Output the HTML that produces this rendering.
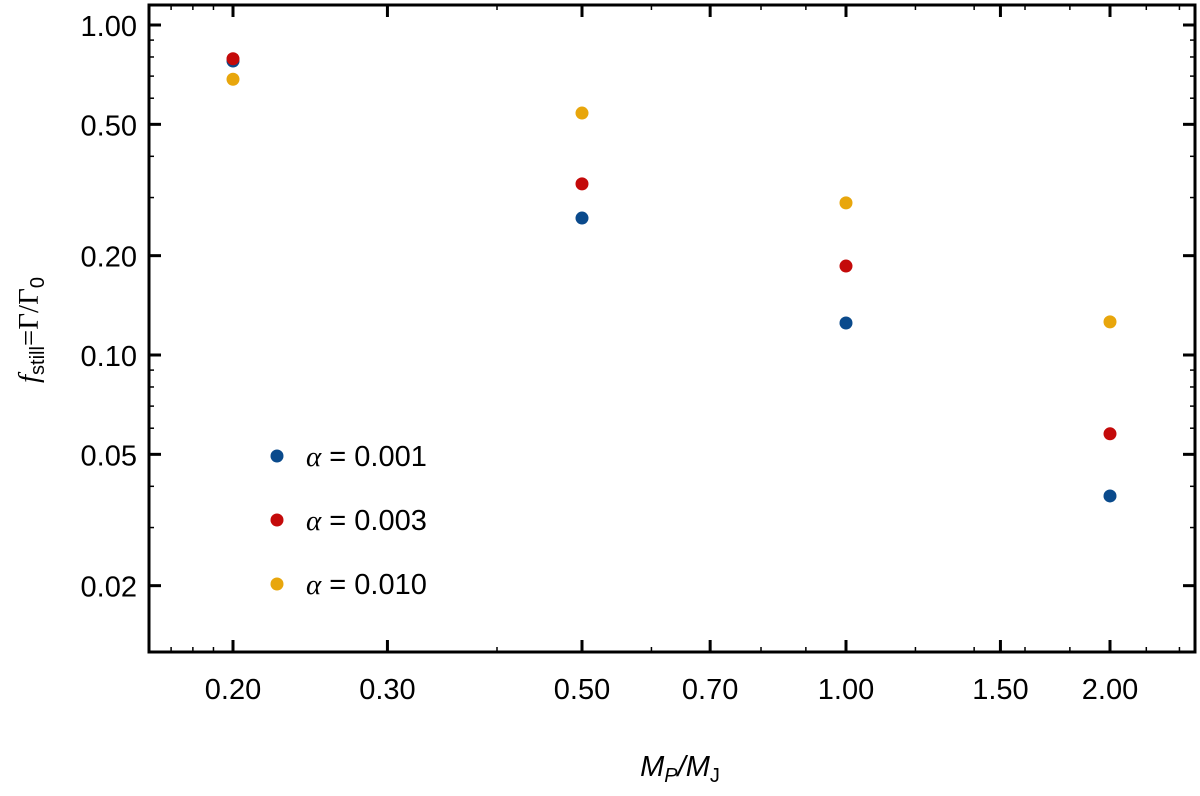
<!DOCTYPE html>
<html><head><meta charset="utf-8"><style>
body{margin:0;background:#fff;}
svg text{font-family:"Liberation Sans",Arial,sans-serif;}
</style></head><body>
<svg id="chart" width="1200" height="791" viewBox="0 0 1200 791" xmlns="http://www.w3.org/2000/svg">
<g id="ticks"></g>
<g id="points"></g>
<rect x="149" y="5" width="1046" height="647" fill="none" stroke="#000" stroke-width="3"/>
<text x="680" y="776" font-size="29" text-anchor="middle"><tspan font-style="italic">M</tspan><tspan font-size="20" dy="6" font-style="italic">P</tspan><tspan dy="-6" font-style="italic">/M</tspan><tspan font-size="20" dy="6">J</tspan></text>
<text transform="translate(38,330) rotate(-90)" font-size="29" text-anchor="middle"><tspan font-style="italic" font-family="Liberation Serif">f</tspan><tspan font-size="20" dy="6">still</tspan><tspan dy="-6" font-family="Liberation Serif">=Γ/Γ</tspan><tspan font-size="20" dy="6">0</tspan></text>
<g font-size="29">
<g><circle cx="277" cy="456" r="6.5" fill="#0a4a8c"/><text x="306" y="466"><tspan font-style="italic" font-family="Liberation Serif">α</tspan> =  0.001</text></g>
<g><circle cx="277" cy="520" r="6.5" fill="#c40a0a"/><text x="306" y="530"><tspan font-style="italic" font-family="Liberation Serif">α</tspan> =  0.003</text></g>
<g><circle cx="277" cy="584" r="6.5" fill="#e8a60c"/><text x="306" y="594"><tspan font-style="italic" font-family="Liberation Serif">α</tspan> =  0.010</text></g>
</g>
</svg>
<script>
const masses=[0.2,0.5,1.0,2.0];
const alpha001=[0.778,0.26,0.125,0.0374];
const alpha003=[0.79,0.33,0.186,0.0577];
const alpha010=[0.685,0.541,0.289,0.126];
const xTickLabels=["0.20","0.30","0.50","0.70","1.00","1.50","2.00"];
const yTickLabels=["0.02","0.05","0.10","0.20","0.50","1.00"];
const xMinor=[0.16,0.17,0.18,0.19,0.4,0.6,0.8,0.9,1.2,1.4,1.6,1.8,2.2,2.4];
const NS="http://www.w3.org/2000/svg";
function X(v){return 233+(Math.log10(v)-Math.log10(0.2))*877;}
function Y(v){return 355-(Math.log10(v)+1)*330;}
const L=149,R=1195,T=5,B=652;
const tg=document.getElementById('ticks');
function line(x1,y1,x2,y2,w){const l=document.createElementNS(NS,'line');l.setAttribute('x1',x1);l.setAttribute('y1',y1);l.setAttribute('x2',x2);l.setAttribute('y2',y2);l.setAttribute('stroke','#000');l.setAttribute('stroke-width',w);


tg.appendChild(l);}
function text(x,y,s,anchor,name){const t=document.createElementNS(NS,'text');t.setAttribute('x',x);t.setAttribute('y',y);t.setAttribute('font-size','29');t.setAttribute('text-anchor',anchor);t.textContent=s;


tg.appendChild(t);}
xMinor.forEach(v=>{const x=X(v);if(x<=L+1||x>=R-1)return;line(x,B,x,B-5,1.5);line(x,T,x,T+5,1.5);});
xTickLabels.forEach(s=>{const x=X(parseFloat(s));line(x,B,x,B-12,3);line(x,T,x,T+12,3);text(x,699,s,'middle','x-tick-label');});
for(let e=-2;e<=0;e++){for(let m=1;m<=9;m++){const v=m*Math.pow(10,e);const y=Y(v);if(y<=T+1||y>=B-1)continue;line(L,y,L+5,y,1.5);line(R,y,R-5,y,1.5);}}
yTickLabels.forEach(s=>{const y=Y(parseFloat(s));line(L,y,L+12,y,3);line(R,y,R-12,y,3);text(137,y+11,s,'end','y-tick-label');});
const pg=document.getElementById('points');
[[alpha001,'#0a4a8c','0001'],[alpha003,'#c40a0a','0003'],[alpha010,'#e8a60c','0010']].forEach(([vals,col,nm])=>{
masses.forEach((m,i)=>{const c=document.createElementNS(NS,'circle');c.setAttribute('cx',X(m));c.setAttribute('cy',Y(vals[i]));c.setAttribute('r',6.5);c.setAttribute('fill',col);


pg.appendChild(c);});});
</script>
</body></html>
